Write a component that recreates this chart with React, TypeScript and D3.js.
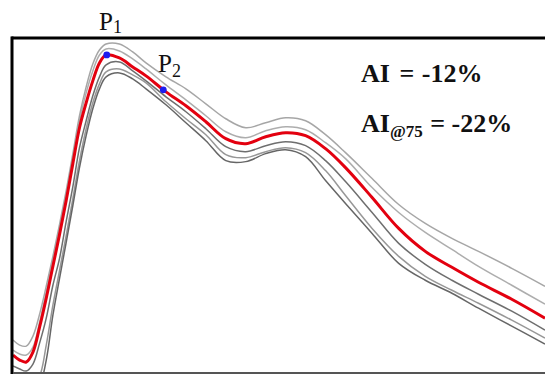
import React from "react";
import * as d3 from "d3";

// time samples (ms)
const timeMs = [0, 10, 20, 30, 40, 50, 60, 70, 80, 90, 100, 110, 120, 130, 140, 160, 180, 200, 230, 260, 290, 320, 350, 380, 410, 440, 470, 500, 540, 580, 620, 660, 700, 750, 800];

// ensemble-average waveform (red), mmHg
const meanWave = [63.4, 62.4, 62.0, 64.0, 69.0, 74.8, 81.2, 87.6, 94.4, 101.8, 109.0, 114.0, 118.4, 122.0, 123.6, 123.0, 121.2, 119.4, 116.2, 113.4, 110.2, 106.8, 105.8, 107.2, 108.0, 107.4, 104.8, 101.0, 95.0, 88.8, 84.2, 81.0, 78.0, 74.6, 70.8];

// individual beats (grey), mmHg
const beat1 = [66.4, 65.4, 65.2, 67.2, 71.6, 77.2, 83.2, 89.6, 96.4, 103.8, 111.4, 117.2, 121.8, 124.6, 125.8, 125.8, 124.2, 122.0, 119.2, 116.8, 113.8, 110.8, 109.0, 110.0, 111.0, 110.4, 107.6, 104.0, 98.8, 93.6, 89.8, 86.8, 84.2, 80.8, 77.2];
const beat2 = [64.4, 63.6, 63.4, 65.0, 70.0, 76.0, 82.2, 88.6, 95.4, 102.8, 110.4, 116.0, 120.4, 123.6, 124.8, 124.4, 122.8, 120.8, 117.6, 114.6, 111.4, 108.2, 107.0, 108.4, 109.2, 108.6, 106.0, 102.8, 97.0, 92.0, 88.0, 84.6, 81.2, 77.4, 73.6];
const beat3 = [61.2, 60.6, 60.2, 61.6, 65.8, 70.8, 77.4, 82.8, 90.2, 97.2, 105.0, 110.4, 115.4, 119.2, 121.6, 122.2, 120.4, 118.4, 115.2, 112.2, 108.8, 105.2, 104.2, 105.4, 106.2, 105.4, 102.4, 98.2, 92.0, 85.8, 81.6, 78.4, 75.6, 72.2, 68.4];
const beat4 = [58.4, 57.6, 57.2, 57.6, 59.2, 65.4, 73.4, 80.4, 87.4, 94.8, 102.4, 108.8, 114.0, 117.8, 120.2, 120.8, 119.6, 118.0, 114.2, 110.8, 107.6, 103.6, 103.0, 104.2, 105.0, 104.0, 100.4, 95.4, 88.8, 83.2, 79.2, 76.4, 73.8, 70.4, 66.8];
const beat5 = [57.4, 56.4, 56.0, 56.4, 57.4, 62.4, 71.4, 78.8, 86.0, 93.4, 101.0, 107.4, 112.8, 116.8, 119.2, 120.0, 118.8, 116.8, 113.6, 110.0, 106.4, 102.4, 102.2, 103.8, 104.6, 103.2, 98.4, 93.8, 87.8, 81.8, 78.4, 75.8, 72.8, 69.2, 65.6];

const beats = [beat1, beat2, beat3, beat4, beat5];
const beatColors = ["#9c9c9c", "#a4a4a4", "#5e5e5e", "#8c8c8c", "#555555"];

// marked points P1 and P2 (ms, mmHg)
const markers = [
  { label: "1", t: 141, p: 123.6 },
  { label: "2", t: 226, p: 116.6 },
];

const W = 545;
const H = 374;
const L = 13;
const R = 545;
const T = 38;
const B = 372;

export default function App() {
  const x = d3.scaleLinear().domain([0, 800]).range([L, R]);
  const y = d3.scaleLinear().domain([60, 127]).range([B, T]);
  const line = d3
    .line<number>()
    .x((_, i) => x(timeMs[i]))
    .y((d) => y(d))
    .curve(d3.curveCatmullRom.alpha(0.5));

  const serif = "'Liberation Serif', 'Times New Roman', serif";

  return (
    <svg
      width={W}
      height={H}
      style={{ position: "absolute", left: 0, top: 0, background: "#fff" }}
    >
      <defs>
        <clipPath id="plotClip">
          <rect x={L} y={T} width={R - L} height={B - T} />
        </clipPath>
      </defs>
      <g clipPath="url(#plotClip)">
        {beats.map((b, i) => (
          <path
            key={i}
            d={line(b) || ""}
            fill="none"
            stroke={beatColors[i]}
            strokeWidth={1.5}
            strokeOpacity={0.9}
          />
        ))}
        <path d={line(meanWave) || ""} fill="none" stroke="#e3000f" strokeWidth={3} />
        {markers.map((m) => (
          <circle key={m.label} cx={x(m.t)} cy={y(m.p)} r={3.4} fill="#1c1cf0" />
        ))}
      </g>
      {/* frame */}
      <line x1={L - 1.5} y1={T} x2={R} y2={T} stroke="#000" strokeWidth={3} />
      <line x1={L - 1} y1={T - 1.5} x2={L - 1} y2={B + 2} stroke="#000" strokeWidth={3} />
      <line x1={L} y1={B + 1} x2={R} y2={B + 1} stroke="#555" strokeWidth={2} />

      {/* labels */}
      <text x={99} y={30} fontFamily={serif} fontSize={25} fill="#111">
        P<tspan fontSize={18} dy={3}>1</tspan>
      </text>
      <text x={158} y={72} fontFamily={serif} fontSize={25} fill="#111">
        P<tspan fontSize={18} dy={5}>2</tspan>
      </text>
      <text x={361} y={82} fontFamily={serif} fontSize={26} fontWeight="bold" fill="#111">
        AI<tspan dx={3}> = </tspan>
        <tspan dx={1}>-12%</tspan>
      </text>
      <text x={361} y={132} fontFamily={serif} fontSize={26} fontWeight="bold" fill="#111">
        AI<tspan fontSize={17} dy={5}>@75</tspan>
        <tspan dy={-5} dx={1}> = -22%</tspan>
      </text>
    </svg>
  );
}
